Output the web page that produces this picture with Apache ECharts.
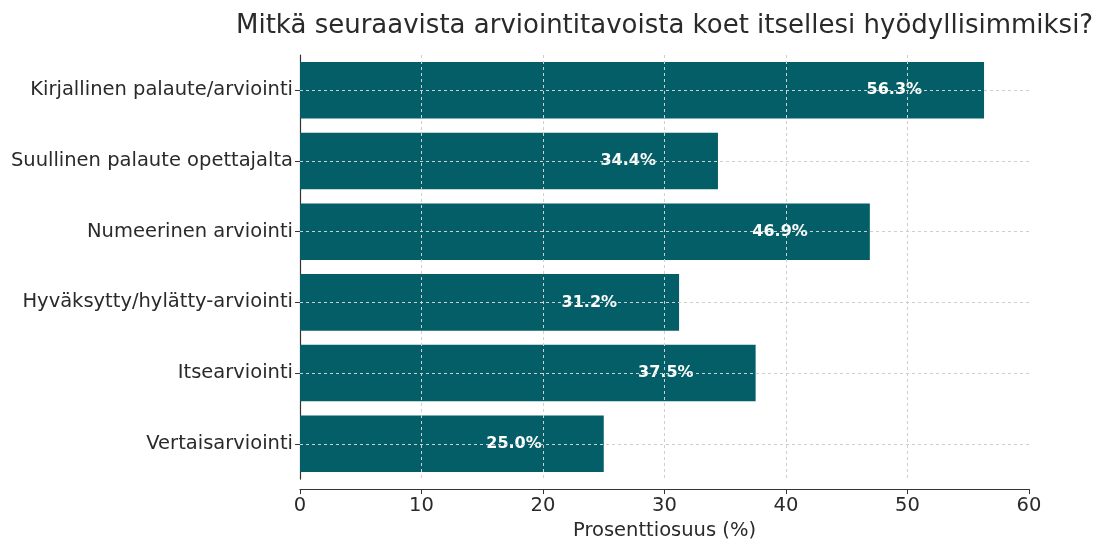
<!DOCTYPE html>
<html>
<head>
<meta charset="utf-8">
<script src="https://cdn.jsdelivr.net/npm/echarts@6/dist/echarts.min.js"></script>
<style>
  html, body { margin: 0; padding: 0; background: #fff; }
  #chart { width: 1100px; height: 546px; }
</style>
</head>
<body>
<div id="chart"></div>
<script>
// kategoriat ja arvot (%)
const categories = [
  'Kirjallinen palaute/arviointi',
  'Suullinen palaute opettajalta',
  'Numeerinen arviointi',
  'Hyväksytty/hylätty-arviointi',
  'Itsearviointi',
  'Vertaisarviointi'
];
const values = [56.3, 34.4, 46.9, 31.2, 37.5, 25.0];
const xTicks = [0, 10, 20, 30, 40, 50, 60];

const chart = echarts.init(document.getElementById('chart'));
const font = 'DejaVu Sans';
const gridLine = { type: [3, 3], color: '#cfcfcf', width: 1 };

// ruudukko viivat palkkien päälle (kuten alkuperäisessä)
const gridMarks = [];
categories.forEach(c => gridMarks.push({ yAxis: c }));
xTicks.slice(1, -1).forEach(t => gridMarks.push({ xAxis: t }));

chart.setOption({
  animation: false,
  title: {
    text: 'Mitkä seuraavista arviointitavoista koet itsellesi hyödyllisimmiksi?',
    left: 231,
    top: 8,
    textStyle: { fontFamily: font, fontSize: 26, fontWeight: 'normal', color: '#2a2a2a' }
  },
  grid: { left: 300, right: 71, top: 55, bottom: 63 },
  xAxis: {
    type: 'value',
    min: 0,
    max: 60,
    interval: 10,
    offset: 10,
    name: 'Prosenttiosuus (%)',
    nameLocation: 'middle',
    nameGap: 30,
    nameTextStyle: { fontFamily: font, fontSize: 19.5, color: '#2a2a2a' },
    axisLine: { show: true, lineStyle: { color: '#333', width: 1.2 } },
    axisTick: { show: true, length: 5, lineStyle: { color: '#333' } },
    axisLabel: { fontFamily: font, fontSize: 19.5, color: '#2a2a2a', margin: 7 },
    splitLine: { show: false }
  },
  yAxis: {
    type: 'category',
    data: categories,
    inverse: true,
    axisLine: { show: true, lineStyle: { color: '#333', width: 1.2 } },
    axisTick: { show: true, alignWithLabel: true, length: 5, lineStyle: { color: '#333' } },
    axisLabel: { fontFamily: font, fontSize: 19.5, color: '#2a2a2a', margin: 7 },
    splitLine: { show: false }
  },
  series: [{
    type: 'bar',
    data: values,
    barWidth: '80%',
    itemStyle: { color: '#035e68' },
    label: {
      show: true,
      position: 'insideRight',
      distance: 62,
      formatter: p => p.value.toFixed(1) + '%',
      fontFamily: font,
      fontSize: 16,
      fontWeight: 'bold',
      color: '#fff'
    },
    markLine: {
      silent: true,
      symbol: 'none',
      label: { show: false },
      lineStyle: gridLine,
      data: gridMarks
    }
  }]
});
</script>
</body>
</html>
